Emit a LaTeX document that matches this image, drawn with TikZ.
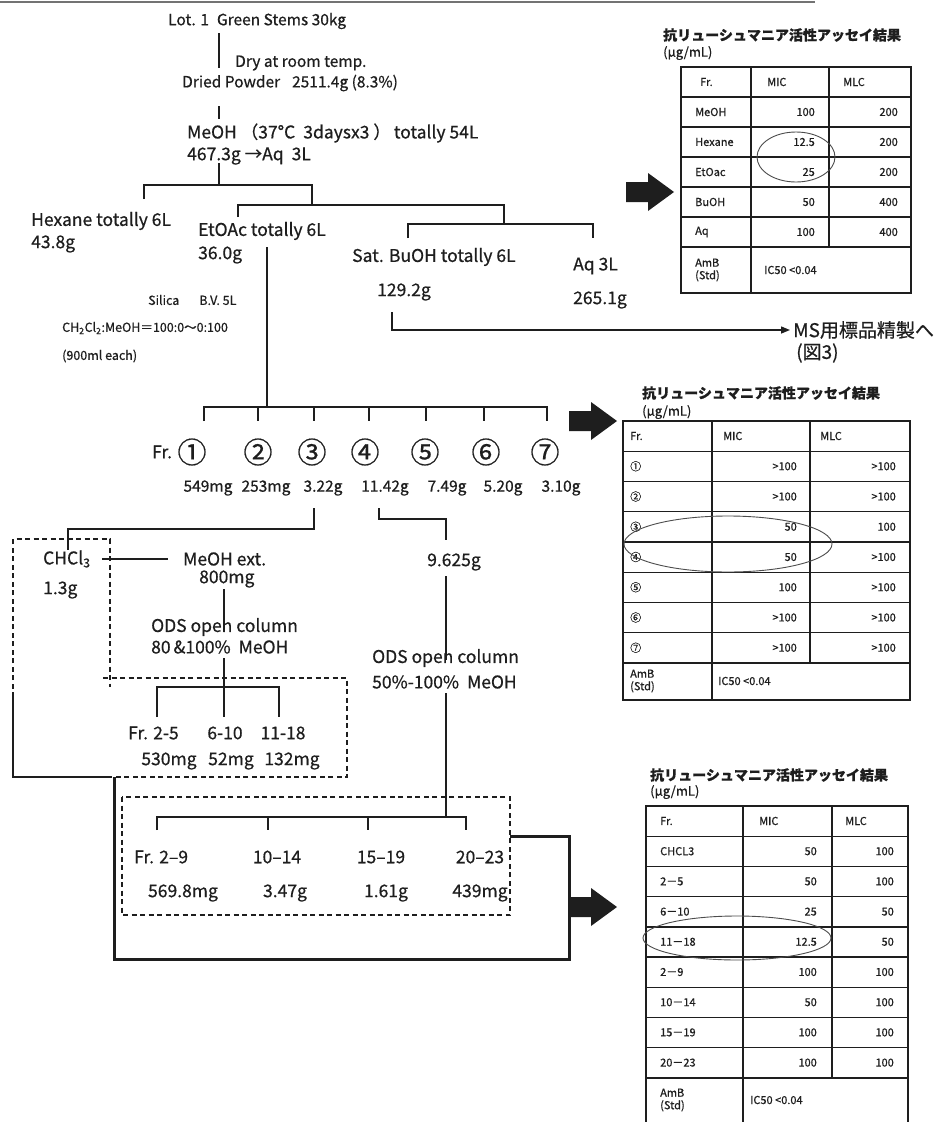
\documentclass[tikz,border=0pt]{standalone}
\usepackage{fontspec}
\setmainfont{Noto Sans CJK JP}[FakeBold=0.6]
\usetikzlibrary{arrows.meta}
\definecolor{ink}{HTML}{1E1E1E}
\tikzset{
  txt/.style={inner sep=0pt, anchor=west, text=ink},
  ctxt/.style={inner sep=0pt, anchor=center, text=ink},
  fmain/.style={font=\fontsize{17.5}{19}\selectfont},
  ftop/.style={font=\fontsize{15.5}{17}\selectfont},
  fsm/.style={font=\fontsize{12.5}{14}\selectfont},
  fcirc/.style={font=\fontsize{29}{31}\selectfont},
  fmass/.style={font=\fontsize{15.5}{17}\selectfont},
  cell/.style={inner sep=0pt, anchor=west, text=ink, font=\fontsize{11}{12.5}\selectfont, align=left},
  cellr/.style={inner sep=0pt, anchor=east, text=ink, font=\fontsize{11}{12.5}\selectfont},
  ttl/.style={inner sep=0pt, anchor=west, text=ink, font=\fontsize{14}{16}\bfseries},
  unitlab/.style={inner sep=0pt, anchor=west, text=ink, font=\fontsize{13}{15}\selectfont},
  ln/.style={line width=1.4pt, draw=ink},
  tb/.style={line width=1.4pt, draw=ink},
  dsh/.style={line width=1.4pt, draw=ink, dash pattern=on 5pt off 3.5pt},
  thk/.style={line width=3pt, draw=ink},
  ell/.style={line width=0.9pt, draw=black!70},
  blk/.pic={\fill[ink] (0,-10) -- (22,-10) -- (22,-19) -- (48,0) -- (22,19) -- (22,10) -- (0,10) -- cycle;}
}
\begin{document}
\begin{tikzpicture}[x=1pt,y=-1pt]
\useasboundingbox (0,0) rectangle (935,1122);
\fill[white] (0,0) rectangle (935,1122);
% top rule (cropped header)
\draw[black!55, line width=2pt] (0,1.5) -- (815,1.5);

% ---------------- upper extraction tree ----------------
\node[txt,ftop] (lot) at (168,21) {Lot. 1\hspace{8pt}Green Stems 30kg};
\node[txt,ftop] (dry) at (235,63) {Dry at room temp.};
\node[txt,ftop] (dried) at (182,83) {Dried Powder\hspace{12pt}2511.4g (8.3\%)};
\node[txt,fmain] (meoh) at (187,133) {MeOH （37°C\hspace{8pt}3daysx3 ）\hspace{3pt}totally 54L};
\node[txt,fmain] (aqa) at (187,156) {467.3g →Aq\hspace{8pt}3L};

\coordinate (a1) at (219,33); \coordinate (a2) at (219,68);
\draw[ln] (a1) -- (a2);
\coordinate (b1) at (219,106); \coordinate (b2) at (219,119);
\draw[ln] (b1) -- (b2);
\coordinate (s0) at (219,163); \coordinate (s1) at (219,185);
\draw[ln] (s0) -- (s1);
\coordinate (h1) at (144,199); \coordinate (h2) at (312,205);
\draw[ln] (h1) |- (s1) -| (h2);
\coordinate (e1) at (238,217); \coordinate (e2) at (504,224);
\draw[ln] (e1) |- (h2) -| (e2);
\coordinate (w1) at (408,238); \coordinate (w2) at (593,238);
\draw[ln] (w1) |- (e2) -| (w2);

\node[txt,fmain] (hex) at (31,221) {Hexane totally 6L};
\node[txt,fmain] (hexg) at (31,244) {43.8g};
\node[txt,fmain] (eto) at (198,231) {EtOAc totally 6L};
\node[txt,fmain] (etog) at (198,255) {36.0g};
\node[txt,fmain] (buo) at (352,257) {Sat. BuOH totally 6L};
\node[txt,fmain] (buog) at (377,292) {129.2g};
\node[txt,fmain] (aq3) at (573,266) {Aq 3L};
\node[txt,fmain] (aqg) at (573,300) {265.1g};

\node[txt,fsm] (sil) at (148,300) {Silica\hspace{20pt}B.V. 5L};
\node[txt,fsm] (solv) at (62,328) {CH\textsubscript{2}Cl\textsubscript{2}:MeOH＝100:0～0:100};
\node[txt,fsm] (each) at (62,356) {(900ml each)};

% BuOH -> MS
\node[txt,font=\fontsize{19}{21}\selectfont] (ms) at (793,330) {MS用標品精製へ};
\node[txt,font=\fontsize{19}{21}\selectfont] (fig3) at (796,353) {(図3)};
\coordinate (m0) at (392,312); \coordinate (m1) at (790,330);
\draw[ln,-{Triangle[length=9pt,width=7pt]}] (m0) |- (m1);

% silica column fractions
\coordinate (f0) at (267,247); \coordinate (f1) at (267,407);
\draw[ln] (f0) -- (f1);
\coordinate (t1) at (204,421); \coordinate (t7) at (547,421);
\draw[ln] (t1) -- (204,407) -- (547,407) -- (t7);
\foreach \x in {258,314,369,426,484} \draw[ln] (\x,407) -- (\x,421);

\node[txt,fmain] (fr) at (152,452) {Fr.};
\foreach \s/\x [count=\i] in {①/192,②/258,③/312,④/365,⑤/425,⑥/486,⑦/545}
  \node[ctxt,fcirc] (c\i) at (\x,452) {\s};
\foreach \s/\x [count=\i] in {549mg/208,253mg/266,3.22g/323,11.42g/385,7.49g/447,5.20g/503,3.10g/561}
  \node[ctxt,fmass] (g\i) at (\x,488) {\s};

% fraction 3 -> CHCl3 / MeOH ext.
\coordinate (p0) at (314,508); \coordinate (p1) at (68,550);
\draw[ln] (p0) -- (314,529) -| (p1);
\coordinate (q0) at (379,508); \coordinate (q1) at (446,540);
\draw[ln] (q0) -- (379,519) -| (q1);

\node[txt,fmain] (chcl) at (43,559) {CHCl\textsubscript{3}};
\node[txt,fmain] (chg) at (43,590) {1.3g};
\node[txt,fmain] (mext) at (183,559) {MeOH ext.};
\node[txt,fmain] (mextg) at (199,579) {800mg};
\coordinate (x0) at (102,559); \coordinate (x1) at (168,559);
\draw[ln] (x0) -- (x1);

\node[txt,fmain] (ods1) at (151,627) {ODS open column};
\node[txt,fmain] (ods1b) at (151,647) {80\,\&100\%\hspace{8pt}MeOH};
\coordinate (v0) at (224,589); \coordinate (v1) at (224,632);
\draw[ln] (v0) -- (v1);
\coordinate (v2) at (224,658); \coordinate (v3) at (224,717);
\draw[ln] (v2) -- (v3);
\draw[ln] (157,717) -- (157,687) -- (279,687) -- (279,717);

\node[txt,fmain] (fa1) at (128,733) {Fr. 2-5};
\node[ctxt,fmain] (fa2) at (225,733) {6-10};
\node[ctxt,fmain] (fa3) at (283,733) {11-18};
\node[ctxt,fmain] (ga1) at (169,761) {530mg};
\node[ctxt,fmain] (ga2) at (231,761) {52mg};
\node[ctxt,fmain] (ga3) at (292,761) {132mg};

% dashed outline 1
\draw[dsh] (13,697) -- (13,539) -- (110,539) -- (110,687);
\draw[dsh] (103,678) -- (347,678) -- (347,777) -- (110,777);
\draw[ln] (13,697) -- (13,777) -- (110,777);

% 9.625g branch
\node[ctxt,fmain] (g9) at (454,562) {9.625g};
\coordinate (y0) at (446,576); \coordinate (y1) at (446,660);
\draw[ln] (y0) -- (y1);
\node[txt,fmain] (ods2) at (372,658) {ODS open column};
\node[txt,fmain] (ods2b) at (372,682) {50\%-100\%\hspace{8pt}MeOH};
\coordinate (y2) at (446,693); \coordinate (y3) at (446,817);
\draw[ln] (y2) -- (y3);
\draw[ln] (157,830) -- (157,817) -- (466,817) -- (466,830);
\foreach \x in {268,368} \draw[ln] (\x,817) -- (\x,830);

\node[txt,fmain] (fb1) at (134,857) {Fr. 2–9};
\node[ctxt,fmain] (fb2) at (277,857) {10–14};
\node[ctxt,fmain] (fb3) at (381,857) {15–19};
\node[ctxt,fmain] (fb4) at (480,857) {20–23};
\node[ctxt,fmain] (gb1) at (183,893) {569.8mg};
\node[ctxt,fmain] (gb2) at (285,893) {3.47g};
\node[ctxt,fmain] (gb3) at (386,893) {1.61g};
\node[ctxt,fmain] (gb4) at (480,893) {439mg};

% dashed outline 2
\draw[dsh] (122,797) rectangle (510,915);

% thick return line
\draw[thk] (114,777) -- (114,959) -- (569,959) -- (569,836) -- (510,836);

% ---------------- block arrows ----------------
\pic (ar1) at (626,192) {blk};
\pic (ar2) at (569,421) {blk};
\pic (ar3) at (569,907) {blk};

% ---------------- table 1 ----------------
\node[ttl] (tt1) at (663,35) {抗リューシュマニア活性アッセイ結果};
\node[unitlab] (tu1) at (663,53) {(µg/mL)};
\draw[tb] (681,67) rectangle (911,293);
\foreach \y in {97,127,157,187,217,247} \draw[tb] (681,\y) -- (911,\y);
\draw[tb] (751,67) -- (751,293);
\draw[tb] (829,67) -- (829,247);
\node[cell] (ta1) at (700,82) {Fr.};
\node[cell] (ta2) at (767,82) {MIC};
\node[cell] (ta3) at (843,82) {MLC};
\foreach \n/\a/\b [count=\i] in {MeOH/100/200,Hexane/12.5/200,EtOac/25/200,BuOH/50/400,Aq/100/400}{
  \node[cell] (tan\i) at (695,82+30*\i) {\n};
  \node[cellr] (taa\i) at (815,82+30*\i) {\a};
  \node[cellr] (tab\i) at (898,82+30*\i) {\b};
}
\node[cell] (tas) at (695,270) {AmB\\(Std)};
\node[cell] (taic) at (764,270) {IC50 <0.04};
\draw[ell] (796,157) ellipse [x radius=39pt, y radius=25pt];

% ---------------- table 2 ----------------
\node[ttl] (tt2) at (642,393) {抗リューシュマニア活性アッセイ結果};
\node[unitlab] (tu2) at (642,412) {(µg/mL)};
\draw[tb] (623,421) rectangle (910,700);
\foreach \k in {1,...,8} \draw[tb] (623,421+30.25*\k) -- (910,421+30.25*\k);
\draw[tb] (712,421) -- (712,700);
\draw[tb] (810,421) -- (810,663);
\node[cell] (tb1) at (630,436) {Fr.};
\node[cell] (tb2) at (723,436) {MIC};
\node[cell] (tb3) at (820,436) {MLC};
\foreach \n/\a/\b [count=\i] in {①/>100/>100,②/>100/>100,③/50/100,④/50/>100,⑤/100/>100,⑥/>100/>100,⑦/>100/>100}{
  \node[cell] (tbn\i) at (630,436+30.25*\i) {\n};
  \node[cellr] (tba\i) at (797,436+30.25*\i) {\a};
  \node[cellr] (tbb\i) at (896,436+30.25*\i) {\b};
}
\node[cell] (tbs) at (630,681) {AmB\\(Std)};
\node[cell] (tbic) at (718,681) {IC50 <0.04};
\draw[ell] (728,544) ellipse [x radius=104pt, y radius=28pt];

% ---------------- table 3 ----------------
\node[ttl] (tt3) at (650,775) {抗リューシュマニア活性アッセイ結果};
\node[unitlab] (tu3) at (650,792) {(µg/mL)};
\draw[tb] (646,1122) -- (646,806) -- (908,806) -- (908,1122);
\foreach \k in {1,...,9} \draw[tb] (646,806+30.2*\k) -- (908,806+30.2*\k);
\draw[tb] (743,806) -- (743,1122);
\draw[tb] (832,806) -- (832,1078);
\node[cell] (tc1) at (660,821) {Fr.};
\node[cell] (tc2) at (759,821) {MIC};
\node[cell] (tc3) at (845,821) {MLC};
\foreach \n/\a/\b [count=\i] in {CHCL3/50/100,2－5/50/100,6－10/25/50,11－18/12.5/50,2－9/100/100,10－14/50/100,15－19/100/100,20－23/100/100}{
  \node[cell] (tcn\i) at (660,821+30.2*\i) {\n};
  \node[cellr] (tca\i) at (817,821+30.2*\i) {\a};
  \node[cellr] (tcb\i) at (894,821+30.2*\i) {\b};
}
\node[cell] (tcs) at (660,1100) {AmB\\(Std)};
\node[cell] (tcic) at (750,1100) {IC50 <0.04};
\draw[ell] (737,938) ellipse [x radius=94pt, y radius=22pt];
\end{tikzpicture}
\end{document}
